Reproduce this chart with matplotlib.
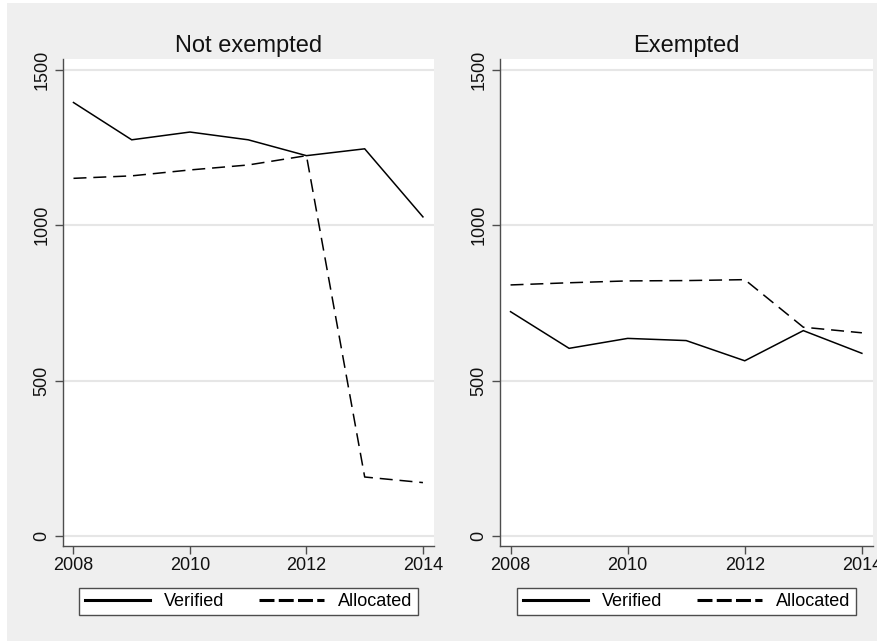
import matplotlib

matplotlib.use("Agg")
import matplotlib.pyplot as plt
from matplotlib.lines import Line2D
from matplotlib.patches import Rectangle

plt.rcParams["font.family"] = ["Liberation Sans", "DejaVu Sans"]

years = [2008, 2009, 2010, 2011, 2012, 2013, 2014]

panel_titles = ["Not exempted", "Exempted"]
verified = [
    [1395, 1275, 1300, 1275, 1224, 1246, 1027],
    [722, 604, 636, 629, 564, 661, 588],
]
allocated = [
    [1151, 1159, 1178, 1194, 1224, 190, 172],
    [808, 815, 821, 822, 825, 672, 654],
]
series_labels = ["Verified", "Allocated"]
x_ticks = [2008, 2010, 2012, 2014]
y_ticks = [0, 500, 1000, 1500]

BG = "#efefef"
GRID = "#e6e6e6"
SPINE = "#4d4d4d"
DASH = (0, (8.5, 4.5))

fig = plt.figure(figsize=(8.78, 6.41), dpi=100, facecolor="white")
fig.patches.append(Rectangle((7 / 878, 0), 1 - 7 / 878, 1 - 3 / 641,
                             transform=fig.transFigure, facecolor=BG,
                             edgecolor="none", zorder=-10))

positions = [
    [63 / 878, 1 - 546 / 641, 371 / 878, 487 / 641],
    [500 / 878, 1 - 546 / 641, 373 / 878, 487 / 641],
]

for i, pos in enumerate(positions):
    ax = fig.add_axes(pos)
    ax.set_facecolor("white")
    for y in y_ticks:
        ax.axhline(y, color=GRID, lw=1.5, zorder=0)
    ax.plot(years, verified[i], color="black", lw=1.1, solid_joinstyle="miter")
    ax.plot(years, allocated[i], color="black", lw=1.1, linestyle=DASH)

    ax.set_xlim(2007.82, 2014.19)
    ax.set_ylim(-32, 1535)
    ax.set_xticks(x_ticks)
    ax.set_yticks(y_ticks)
    ax.set_yticklabels([str(v) for v in y_ticks], rotation=90, va="center")
    ax.tick_params(axis="both", labelsize=13, colors=SPINE, labelcolor="#111111",
                   length=6, width=1)
    ax.tick_params(axis="y", pad=3)
    ax.tick_params(axis="x", pad=2)
    for side in ["top", "right"]:
        ax.spines[side].set_visible(False)
    for side in ["left", "bottom"]:
        ax.spines[side].set_color(SPINE)
        ax.spines[side].set_linewidth(1)
    ax.set_title(panel_titles[i], fontsize=17, pad=5, color="#111111")

    handles = [
        Line2D([], [], color="black", lw=2.2),
        Line2D([], [], color="black", lw=2.2, linestyle=(0, (4.9, 1.4))),
    ]
    cx = (pos[0] + pos[2] / 2)
    leg = ax.legend(handles, series_labels, loc="center",
                    bbox_to_anchor=(cx, 1 - 601.5 / 641),
                    bbox_transform=fig.transFigure, ncol=2, fontsize=13,
                    frameon=True, fancybox=False, handlelength=3.6,
                    handletextpad=0.8, columnspacing=1.9, borderpad=0.3)
    frame = leg.get_frame()
    frame.set_edgecolor(SPINE)
    frame.set_linewidth(1)
    frame.set_facecolor("white")
    frame.set_alpha(1)

fig.savefig("out.png", dpi=100, facecolor=fig.get_facecolor())
